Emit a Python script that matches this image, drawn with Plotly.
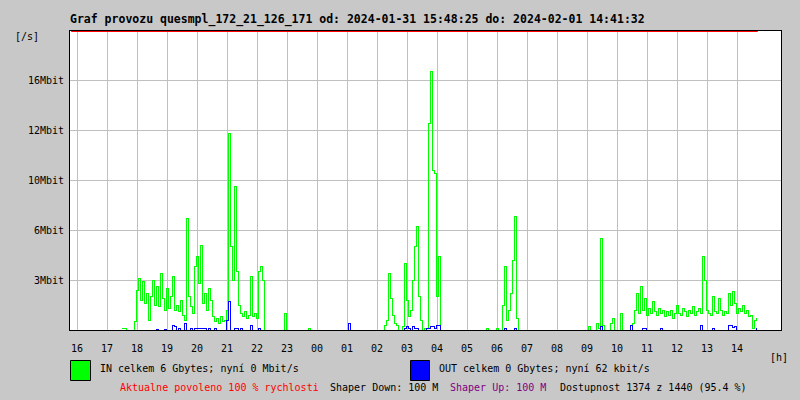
import pandas as pd
import plotly.graph_objects as go

# ---------------- data ----------------
period = ["2024-01-31 15:48:25", "2024-02-01 14:41:32"]
host = "quesmpl_172_21_126_171"

hour_labels = ["16", "17", "18", "19", "20", "21", "22", "23", "00", "01", "02", "03",
               "04", "05", "06", "07", "08", "09", "10", "11", "12", "13", "14"]
first_hour = "2024-01-31 16:00"

y_tick_values = [3, 6, 9, 12, 15]
y_tick_labels = ["3Mbit", "6Mbit", "10Mbit", "12Mbit", "16Mbit"]

# samples every 4 minutes, values in Mbit/s
evening_start = "2024-01-31 17:30"
evening_in = [0.1, 0.1, 0, 0, 0, 0, 0.5, 2.4, 3.1, 1.8, 2.9, 1.6, 2.2, 0.6, 2.0, 3.0, 1.5, 2.6,
              1.4, 3.4, 1.9, 1.2, 2.5, 1.3, 2.0, 3.2, 1.2, 1.5, 1.1, 1.8, 0.9, 0.6, 6.7, 2.0,
              1.4, 1.0, 3.8, 4.4, 2.8, 5.1, 1.6, 2.2, 1.2, 2.5, 1.8, 0.8, 0.5, 0.7, 0.4, 0.8,
              0.5, 0.6, 1.2, 11.8, 5.0, 3.0, 8.6, 3.5, 1.5, 1.0, 0.8, 1.1, 0.7, 0.9, 3.2, 0.8,
              1.0, 0.7, 3.5, 3.8, 3.0, 0]
evening_out = [0, 0, 0, 0, 0, 0, 0, 0, 0, 0, 0, 0, 0, 0, 0, 0, 0, 0.05, 0, 0, 0, 0.05, 0, 0,
               0, 0.3, 0.2, 0, 0.1, 0, 0, 0.4, 0, 0, 0.1, 0, 0.1, 0.1, 0.1, 0.1, 0.1, 0.1, 0,
               0.1, 0, 0, 0.1, 0, 0, 0, 0, 0, 0.6, 1.7, 0, 0, 0.1, 0.1, 0, 0.1, 0, 0, 0, 0,
               0.3, 0, 0, 0, 0.1, 0, 0, 0]

late_start = "2024-01-31 22:50"
late_in = [0, 1.0, 0, 0, 0, 0, 0, 0, 0, 0, 0, 0, 0, 0.1, 0, 0, 0, 0, 0, 0, 0, 0, 0, 0,
           0, 0, 0, 0, 0, 0, 0, 0, 0, 0, 0, 0]
late_out = [0, 0, 0, 0, 0, 0, 0, 0, 0, 0, 0, 0, 0, 0, 0, 0, 0, 0, 0, 0, 0, 0, 0, 0,
            0, 0, 0, 0, 0, 0, 0, 0, 0, 0.4, 0, 0]

night_start = "2024-02-01 02:10"
night_in = [0, 0.3, 0.6, 3.4, 1.9, 0.9, 0.4, 0.3, 0, 0, 0.2, 4.0, 1.8, 0.8, 1.2, 3.0, 5.0,
            6.2, 2.0, 0.6, 0, 0.1, 0.1, 12.4, 15.5, 9.6, 9.4, 2.0, 4.4, 0]
night_out = [0, 0, 0, 0, 0, 0, 0, 0, 0, 0, 0, 0.1, 0.2, 0.1, 0, 0.2, 0.1, 0.1, 0, 0, 0, 0,
             0.1, 0.1, 0.2, 0.2, 0.1, 0.3, 0.3, 0]

morning_start = "2024-02-01 05:34"
morning_in = [0, 0.1, 0, 0, 0, 0, 0.1, 0, 0, 1.5, 3.8, 0.6, 1.2, 2.2, 4.2, 6.8, 0.7, 0]
morning_out = [0, 0, 0, 0, 0, 0, 0, 0, 0, 0, 0.1, 0, 0, 0, 0, 0.1, 0, 0]

day_start = "2024-02-01 08:58"
day_in = [0, 0.2, 0, 0, 0, 0.4, 0.1, 5.5, 0.3, 0, 0, 0, 0.4, 0.7, 0, 0, 0, 1.0, 0, 0, 0,
          0, 0, 0.4, 1.2, 2.2, 1.0, 2.6, 1.2, 1.9, 0.9, 1.3, 1.0, 1.7, 1.1, 0.9, 1.3, 1.0,
          1.2, 0.8, 1.1, 0.9, 1.2, 0.7, 1.0, 1.5, 1.0, 0.9, 1.3, 1.1, 0.8, 1.2, 1.0, 1.4,
          0.9, 1.1, 1.3, 1.0, 4.4, 3.0, 1.2, 1.0, 0.9, 2.0, 1.1, 1.0, 1.9, 1.2, 0.9, 1.1,
          1.0, 2.2, 1.5, 2.3, 1.6, 1.0, 1.3, 1.1, 1.5, 1.0, 1.2, 0.8, 0.9, 0.1, 0.6, 0.7]
day_out = [0, 0, 0, 0, 0, 0, 0, 0.2, 0, 0, 0, 0, 0, 0, 0, 0, 0, 0, 0, 0, 0, 0, 0.3, 0,
           0, 0, 0, 0, 0.1, 0.1, 0, 0, 0, 0, 0, 0, 0, 0.1, 0, 0, 0, 0, 0, 0, 0, 0, 0, 0,
           0, 0, 0, 0, 0, 0, 0, 0, 0, 0.3, 0, 0, 0, 0, 0, 0.1, 0, 0, 0, 0, 0, 0, 0, 0.3,
           0.3, 0.15, 0.2, 0, 0, 0, 0, 0, 0, 0, 0, 0, 0, 0.1]

segments = [
    (evening_start, evening_in, evening_out),
    (late_start, late_in, late_out),
    (night_start, night_in, night_out),
    (morning_start, morning_in, morning_out),
    (day_start, day_in, day_out),
]

times, in_vals, out_vals = [], [], []
for start, vin, vout in segments:
    t = pd.date_range(start, periods=len(vin), freq="4min")
    times.extend(t)
    in_vals.extend(vin)
    out_vals.extend(vout)

tick_vals = list(pd.date_range(first_hour, periods=len(hour_labels), freq="1h"))

# ---------------- figure ----------------
W, H = 800, 400
L, R, T, B = 70, 19, 30, 70
PW, PH = W - L - R, H - T - B


def px(x):
    return (x - L) / PW


def py(y):
    return (H - B - y) / PH


BG = "#c8c8c8"
MONO = "DejaVu Sans Mono"

fig = go.Figure()
fig.add_trace(go.Scatter(x=times, y=in_vals, mode="lines", line=dict(color="#00ff00", width=1, shape="hv"),
                         hoverinfo="skip", showlegend=False))
fig.add_trace(go.Scatter(x=times, y=out_vals, mode="lines", line=dict(color="#0000ff", width=1, shape="hv"),
                         hoverinfo="skip", showlegend=False))

fig.update_layout(
    width=W, height=H,
    margin=dict(l=L, r=R, t=T, b=B, pad=0),
    paper_bgcolor=BG, plot_bgcolor="white",
    font=dict(family=MONO, size=10, color="black"),
    showlegend=False,
    xaxis=dict(
        range=["2024-01-31 15:46", "2024-02-01 15:28"],
        tickvals=tick_vals, ticktext=hour_labels,
        showgrid=True, gridcolor="#c0c0c0", gridwidth=1,
        showline=True, linecolor="black", linewidth=1, mirror=False,
        ticks="outside", ticklen=9, tickcolor=BG,
        zeroline=False, fixedrange=True,
        tickfont=dict(family=MONO, size=10),
    ),
    yaxis=dict(
        range=[0, 18],
        tickvals=y_tick_values, ticktext=y_tick_labels,
        showgrid=True, gridcolor="#c0c0c0", gridwidth=1,
        showline=True, linecolor="black", linewidth=1, mirror=True,
        ticks="outside", ticklen=3, tickcolor=BG,
        zeroline=False, fixedrange=True,
        tickfont=dict(family=MONO, size=10),
    ),
)

# top frame edge and the limit line just below it
fig.add_shape(type="line", xref="paper", yref="paper", x0=0, x1=1,
              y0=py(30.5), y1=py(30.5), line=dict(color="black", width=1), layer="above")
fig.add_shape(type="line", xref="x", yref="paper", x0=period[0], x1=period[1],
              y0=py(31.5), y1=py(31.5), line=dict(color="#ff0000", width=1), layer="above")

# legend boxes
fig.add_shape(type="rect", xref="paper", yref="paper", x0=px(70.5), x1=px(90.5), y0=py(380.5), y1=py(360.5),
              fillcolor="#00ff00", line=dict(color="black", width=1))
fig.add_shape(type="rect", xref="paper", yref="paper", x0=px(410.5), x1=px(429.5), y0=py(380.5), y1=py(360.5),
              fillcolor="#0000ff", line=dict(color="black", width=1))

annots = [
    (69, 19, f"<b>Graf provozu {host} od: {period[0]} do: {period[1]}</b>", 11.5, "black"),
    (14, 37, "[/s]", 10, "black"),
    (769, 357, "[h]", 10, "black"),
    (99, 368, "IN celkem 6 Gbytes; nyní 0 Mbit/s", 10, "black"),
    (438, 368, "OUT celkem 0 Gbytes; nyní 62 kbit/s", 10, "black"),
    (119, 387, "Aktualne povoleno 100 % rychlosti", 10, "#ff0000"),
    (329, 387, "Shaper Down: 100 M", 10, "black"),
    (449, 387, "Shaper Up: 100 M", 10, "#800080"),
    (559, 387, "Dostupnost 1374 z 1440 (95.4 %)", 10, "black"),
]
for x, y, text, size, color in annots:
    fig.add_annotation(x=px(x), y=py(y), xref="paper", yref="paper", text=text, showarrow=False,
                       xanchor="left", yanchor="middle", align="left",
                       font=dict(family=MONO, size=size, color=color), borderpad=0)

css_js = (
    "document.body.style.margin='0';"
    "document.body.style.background='" + BG + "';"
    "var st=document.createElement('style');"
    "st.textContent='.js-plotly-plot .scatterlayer path, .js-plotly-plot .gridlayer path{shape-rendering:crispEdges;}';"
    "document.head.appendChild(st);"
)
fig.write_html("out.html", config={"displayModeBar": False, "staticPlot": True}, post_script=css_js)
